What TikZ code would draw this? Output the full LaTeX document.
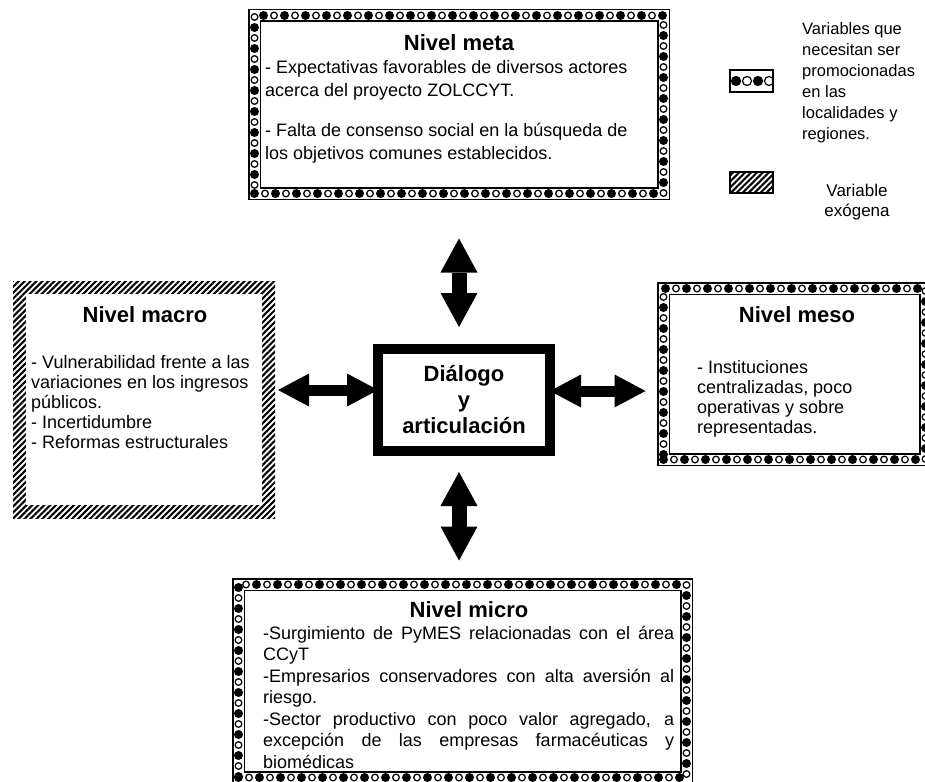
\documentclass[tikz,border=0pt]{standalone}
\usepackage{fontspec}
\setmainfont{Liberation Sans}
\usepackage{tikz}
\usetikzlibrary{arrows.meta,patterns.meta,positioning}

\newcommand\fullline[1]{\makebox[411pt][s]{\spaceskip=0pt\xspaceskip=0pt\relax #1}}

\tikzset{
    dotbox/.style={draw, line width=13pt, inner sep=0pt,
        postaction={draw=white, line width=10pt},
        postaction={draw=black, line width=9pt, line cap=round, dash pattern=on 0pt off 21pt},
        postaction={draw=black, line width=8pt, line cap=round, dash pattern=on 0pt off 21pt, dash phase=10.5pt},
        postaction={draw=white, line width=5pt, line cap=round, dash pattern=on 0pt off 21pt, dash phase=10.5pt}},
    hatchbox/.style={inner sep=0pt, pattern={Lines[angle=45,distance=4.2pt,line width=2.1pt]},
        path picture={\fill[white] ([shift={(13pt,-13pt)}]path picture bounding box.north west)
            rectangle ([shift={(-13pt,13pt)}]path picture bounding box.south east);}},
    hubbox/.style={draw, line width=10pt, inner sep=0pt, minimum width=172pt, minimum height=102pt,
        align=center, font=\bfseries\fontsize{22}{26}\selectfont},
    head/.style={inner sep=0pt, font=\bfseries\fontsize{22}{26}\selectfont},
    body/.style={inner sep=0pt, anchor=north west, align=left, font=\fontsize{18}{20}\selectfont},
    legdot/.style={draw, line width=2pt, inner sep=0pt, minimum width=43pt, minimum height=22pt,
        path picture={\foreach \i in {0,...,3}
            \draw[black, line width=1.2pt] ([shift={(\i*11pt+6pt,-11pt)}]path picture bounding box.north west) circle (4.5pt);
            \foreach \i in {0,2}
            \fill[black] ([shift={(\i*11pt+6pt,-11pt)}]path picture bounding box.north west) circle (4.5pt);}},
    leghatch/.style={draw, line width=1.5pt, inner sep=0pt, minimum width=43pt, minimum height=21pt,
        pattern={Lines[angle=45,distance=4.2pt,line width=2.1pt]}},
    vlink/.style={line width=15pt,
        arrows={Triangle[width=37pt,length=34pt,line width=0pt]-Triangle[width=37pt,length=34pt,line width=0pt]}},
    hlink/.style={line width=11pt,
        arrows={Triangle[width=33pt,length=31pt,line width=0pt]-Triangle[width=33pt,length=31pt,line width=0pt]}},
}

\begin{document}
\begin{tikzpicture}[x=1pt,y=-1pt]
    \useasboundingbox (0,0) rectangle (925,781);
    \path
        (459,104.5)   node[dotbox, minimum width=409pt, minimum height=178pt] (meta){}
        (144,399.5)   node[hatchbox, minimum width=262pt, minimum height=237pt] (macro){}
        (794.5,374)   node[dotbox, minimum width=262pt, minimum height=171pt] (meso){}
        (462.5,681)   node[dotbox, minimum width=448pt, minimum height=193pt] (micro){}
        (464,400)     node[hubbox] (hub){Diálogo\\y\\articulación}
        (751.5,81)    node[legdot] (keyDot){}
        (751.5,182.5) node[leghatch] (keyHatch){}
        ;
    \path
        (459,43)      node[head] (metaH){Nivel meta}
        (265,60)      node[body, font=\fontsize{18}{23}\selectfont] (metaB){- Expectativas favorables de diversos actores\\acerca del proyecto ZOLCCYT.\\[17pt]- Falta de consenso social en la búsqueda de\\los objetivos comunes establecidos.}
        (145,315)     node[head] (macroH){Nivel macro}
        (31,355)      node[body] (macroB){- Vulnerabilidad frente a las\\variaciones en los ingresos\\públicos.\\- Incertidumbre\\- Reformas estructurales}
        (797,315)     node[head] (mesoH){Nivel meso}
        (697,360)     node[body] (mesoB){- Instituciones\\centralizadas, poco\\operativas y sobre\\representadas.}
        (469,610)     node[head] (microH){Nivel micro}
        (263,626)     node[body, text width=411pt, font=\fontsize{18}{21.5}\selectfont] (microB){\fullline{-Surgimiento de PyMES relacionadas con el área}\\CCyT\\\fullline{-Empresarios conservadores con alta aversión al}\\riesgo.\\\fullline{-Sector productivo con poco valor agregado, a}\\\fullline{excepción de las empresas farmacéuticas y}\\biomédicas}
        (802,22)      node[body, font=\fontsize{16.5}{21}\selectfont] (keyDotT){Variables que\\necesitan ser\\promocionadas\\en las\\localidades y\\regiones.}
        (857,202)     node[inner sep=0pt, align=center, font=\fontsize{17}{20}\selectfont] (keyHatchT){Variable\\exógena}
        ;
    \coordinate (hubW) at ([yshift=10pt]hub.west);
    \coordinate (hubE) at ([yshift=9pt]hub.east);
    \draw [vlink, shorten <=38.5pt, shorten >=17pt] (meta.south) -- (meta.south |- hub.north);
    \draw [vlink, shorten <=16pt, shorten >=17.5pt] (meta.south |- hub.south) -- (meta.south |- micro.north);
    \draw [hlink, shorten <=2pt, shorten >=-5pt] (macro.east |- hubW) -- (hubW);
    \draw [hlink, shorten <=-5pt, shorten >=11.5pt] (hubE) -- (meso.west |- hubE);
\end{tikzpicture}
\end{document}
